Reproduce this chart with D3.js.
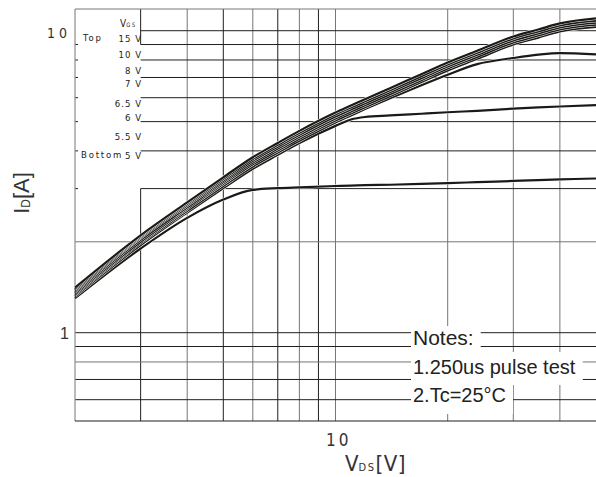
<!DOCTYPE html>
<html>
<head>
<meta charset="utf-8">
<script src="https://cdn.jsdelivr.net/npm/d3@7"></script>
<style>
  body { margin: 0; background: #fff; }
  svg { display: block; }
</style>
</head>
<body>
<div id="chart"></div>
<script>
// drain-source voltage samples (V)
const vds = [2, 3, 4, 5, 6, 7, 8, 10, 11, 12, 14, 17, 20, 24, 30, 35, 40, 50];

// drain current (A) for each gate voltage
const id15 = [1.41, 2.10, 2.70, 3.27, 3.81, 4.25, 4.66, 5.36, 5.65, 5.93, 6.45, 7.18, 7.85, 8.58, 9.57, 10.09, 10.57, 10.98];
const id10 = [1.395, 2.08, 2.67, 3.23, 3.76, 4.19, 4.59, 5.28, 5.57, 5.84, 6.35, 7.07, 7.73, 8.45, 9.43, 9.94, 10.41, 10.80];
const id8 = [1.38, 2.06, 2.64, 3.19, 3.71, 4.13, 4.52, 5.20, 5.48, 5.75, 6.26, 6.96, 7.61, 8.32, 9.28, 9.79, 10.25, 10.63];
const id7 = [1.365, 2.03, 2.60, 3.15, 3.66, 4.07, 4.45, 5.12, 5.40, 5.66, 6.16, 6.86, 7.50, 8.19, 9.14, 9.64, 10.09, 10.47];
const id65 = [1.35, 2.00, 2.57, 3.11, 3.61, 4.01, 4.39, 5.04, 5.32, 5.58, 6.07, 6.76, 7.39, 8.07, 9.00, 9.49, 9.95, 10.30];
const id6 = [1.335, 1.98, 2.53, 3.06, 3.55, 3.95, 4.32, 4.97, 5.24, 5.50, 5.97, 6.60, 7.15, 7.75, 8.12, 8.33, 8.43, 8.35];
const id55 = [1.32, 1.95, 2.50, 3.01, 3.49, 3.88, 4.25, 4.84, 5.08, 5.18, 5.24, 5.31, 5.37, 5.43, 5.52, 5.57, 5.61, 5.67];
const id5 = [1.30, 1.90, 2.40, 2.76, 2.97, 3.01, 3.03, 3.06, 3.07, 3.08, 3.09, 3.11, 3.13, 3.15, 3.18, 3.20, 3.22, 3.24];

const vgsLabels = ["15 V", "10 V", "8 V", "7 V", "6.5 V", "6 V", "5.5 V", "5 V"];
const curves = [id15, id10, id8, id7, id65, id6, id55, id5];

const vdsGrid = [3, 4, 5, 6, 7, 8, 9, 10, 20, 30, 40];
const idGrid = [0.6, 0.7, 0.8, 0.9, 1, 2, 3, 4, 5, 6, 7, 8, 9, 10];
const notes = ["Notes:", "1.250us pulse test", "2.Tc=25\u00b0C"];

const margin = { top: 9, right: 0, bottom: 56, left: 75 },
  width = 596 - margin.left - margin.right,
  height = 477 - margin.top - margin.bottom;

const svg = d3
  .select("#chart")
  .append("svg")
  .attr("width", 596)
  .attr("height", 477)
  .append("g")
  .attr("transform", "translate(" + margin.left + "," + margin.top + ")");

const x = d3.scaleLog().domain([2, 50]).range([0, width]);
const y = d3.scaleLog().domain([0.51, 11.8]).range([height, 0]);

const dark = "#231f20",
  gray = "#767676";
const narrow = "'Liberation Sans Narrow', 'Arial Narrow', 'DejaVu Sans Condensed', sans-serif";
const sans = "'Liberation Sans', Arial, sans-serif";

// which grid lines are drawn light
const grayV = new Set([4, 6, 8, 10, 20, 30, 40]);
const grayH = new Set([2, 0.8]);

// legend area in the top-left corner keeps the grid out
const legendEdge = 3;

// vertical grid
vdsGrid.forEach(function (v) {
  var segs = v === legendEdge ? [[0, y(9)], [y(3), height]] : [[0, height]];
  segs.forEach(function (s) {
    svg
      .append("line")
      .attr("x1", x(v))
      .attr("x2", x(v))
      .attr("y1", s[0])
      .attr("y2", s[1])
      .attr("stroke", grayV.has(v) ? gray : dark)
      .attr("stroke-width", 1);
  });
});

// horizontal grid
idGrid.forEach(function (v) {
  var x0 = v >= 3 ? x(legendEdge) : 0;
  svg
    .append("line")
    .attr("x1", x0)
    .attr("x2", width)
    .attr("y1", y(v))
    .attr("y2", y(v))
    .attr("stroke", grayH.has(v) ? gray : dark)
    .attr("stroke-width", 1);
  if (v >= 3 && v <= 9) {
    svg
      .append("line")
      .attr("x1", 0)
      .attr("x2", 3)
      .attr("y1", y(v))
      .attr("y2", y(v))
      .attr("stroke", dark);
  }
});

// frame
svg.append("line").attr("x1", 0).attr("x2", width).attr("y1", 0).attr("y2", 0).attr("stroke", gray);
svg.append("line").attr("x1", 0).attr("x2", 0).attr("y1", 0).attr("y2", height).attr("stroke", "#8c8c8c").attr("stroke-width", 1.2);
svg.append("line").attr("x1", 0).attr("x2", width).attr("y1", height).attr("y2", height).attr("stroke", dark).attr("stroke-width", 1.2);

// curves, lowest first, each with a thin white halo so the bundle separates
const line = d3
  .line()
  .curve(d3.curveMonotoneX)
  .x(function (d, i) {
    return x(vds[i]);
  })
  .y(function (d) {
    return y(d);
  });

curves
  .slice()
  .reverse()
  .forEach(function (c) {
    svg
      .append("path")
      .attr("d", line(c))
      .attr("fill", "none")
      .attr("stroke", "#fff")
      .attr("stroke-width", 3.1);
    svg
      .append("path")
      .attr("d", line(c))
      .attr("fill", "none")
      .attr("stroke", "#1c1a17")
      .attr("stroke-width", 2.2);
  });

// legend
const legendBase = [32.7, 49.3, 65, 78.3, 98.3, 111.7, 131, 150.3];
vgsLabels.forEach(function (t, i) {
  svg
    .append("text")
    .attr("x", 67)
    .attr("y", legendBase[i])
    .attr("text-anchor", "end")
    .attr("font-family", narrow)
    .attr("font-size", 9.5)
    .attr("letter-spacing", 1)
    .attr("fill", "#222")
    .text(t);
});
const vgs = svg
  .append("text")
  .attr("x", 45)
  .attr("y", 18)
  .attr("font-family", narrow)
  .attr("fill", "#222");
vgs.append("tspan").attr("font-size", 10).text("V");
vgs.append("tspan").attr("font-size", 6).attr("letter-spacing", 1.5).text("GS");
svg
  .append("text")
  .attr("x", 8)
  .attr("y", 31.5)
  .attr("font-family", narrow)
  .attr("font-size", 9.5)
  .attr("letter-spacing", 1.8)
  .attr("fill", "#222")
  .text("Top");
svg
  .append("text")
  .attr("x", 6)
  .attr("y", 149)
  .attr("font-family", narrow)
  .attr("font-size", 9.5)
  .attr("letter-spacing", 1.8)
  .attr("fill", "#222")
  .text("Bottom");

// notes box
const noteBase = [336, 365, 393];
const noteText = notes.map(function (t, i) {
  return svg
    .append("text")
    .attr("x", 338)
    .attr("y", noteBase[i])
    .attr("font-family", sans)
    .attr("font-size", i === 0 ? 21 : 20)
    .attr("fill", "#222")
    .text(t);
});
const rowEdges = [[317, 343], [343, 376], [376, 405]];
noteText.forEach(function (t, i) {
  var b = t.node().getBBox();
  svg
    .insert("rect", "text")
    .attr("x", 336)
    .attr("y", rowEdges[i][0])
    .attr("width", b.x + b.width + 7 - 336)
    .attr("height", rowEdges[i][1] - rowEdges[i][0])
    .attr("fill", "#fff");
});

// tick labels
svg
  .append("text")
  .attr("x", -28)
  .attr("y", y(10) + 7)
  .attr("font-family", narrow)
  .attr("font-size", 14)
  .attr("letter-spacing", 4)
  .attr("fill", "#333")
  .text("10");
svg
  .append("text")
  .attr("x", -6)
  .attr("y", y(1) + 6)
  .attr("text-anchor", "end")
  .attr("font-family", sans)
  .attr("font-size", 16)
  .attr("fill", "#333")
  .text("1");
svg
  .append("text")
  .attr("x", x(10) - 9.5)
  .attr("y", height + 25)
  .attr("font-family", narrow)
  .attr("font-size", 17)
  .attr("letter-spacing", 3)
  .attr("fill", "#333")
  .text("10");

// axis titles
const xt = svg
  .append("text")
  .attr("x", 270)
  .attr("y", height + 50)
  .attr("font-family", narrow)
  .attr("fill", "#333");
xt.append("tspan").attr("font-size", 22).text("V");
xt.append("tspan").attr("font-size", 11).attr("letter-spacing", 1.5).text("DS");
xt.append("tspan").attr("font-size", 22).attr("letter-spacing", 0.5).text("[V]");

const yt = svg
  .append("text")
  .attr("transform", "translate(-46," + 184 + ") rotate(-90)")
  .attr("text-anchor", "middle")
  .attr("font-family", sans)
  .attr("fill", "#333");
yt.append("tspan").attr("font-size", 22).text("I");
yt.append("tspan").attr("font-size", 12).attr("dy", 1).text("D");
yt.append("tspan").attr("font-size", 22).attr("dy", -1).text("[A]");
</script>
</body>
</html>
